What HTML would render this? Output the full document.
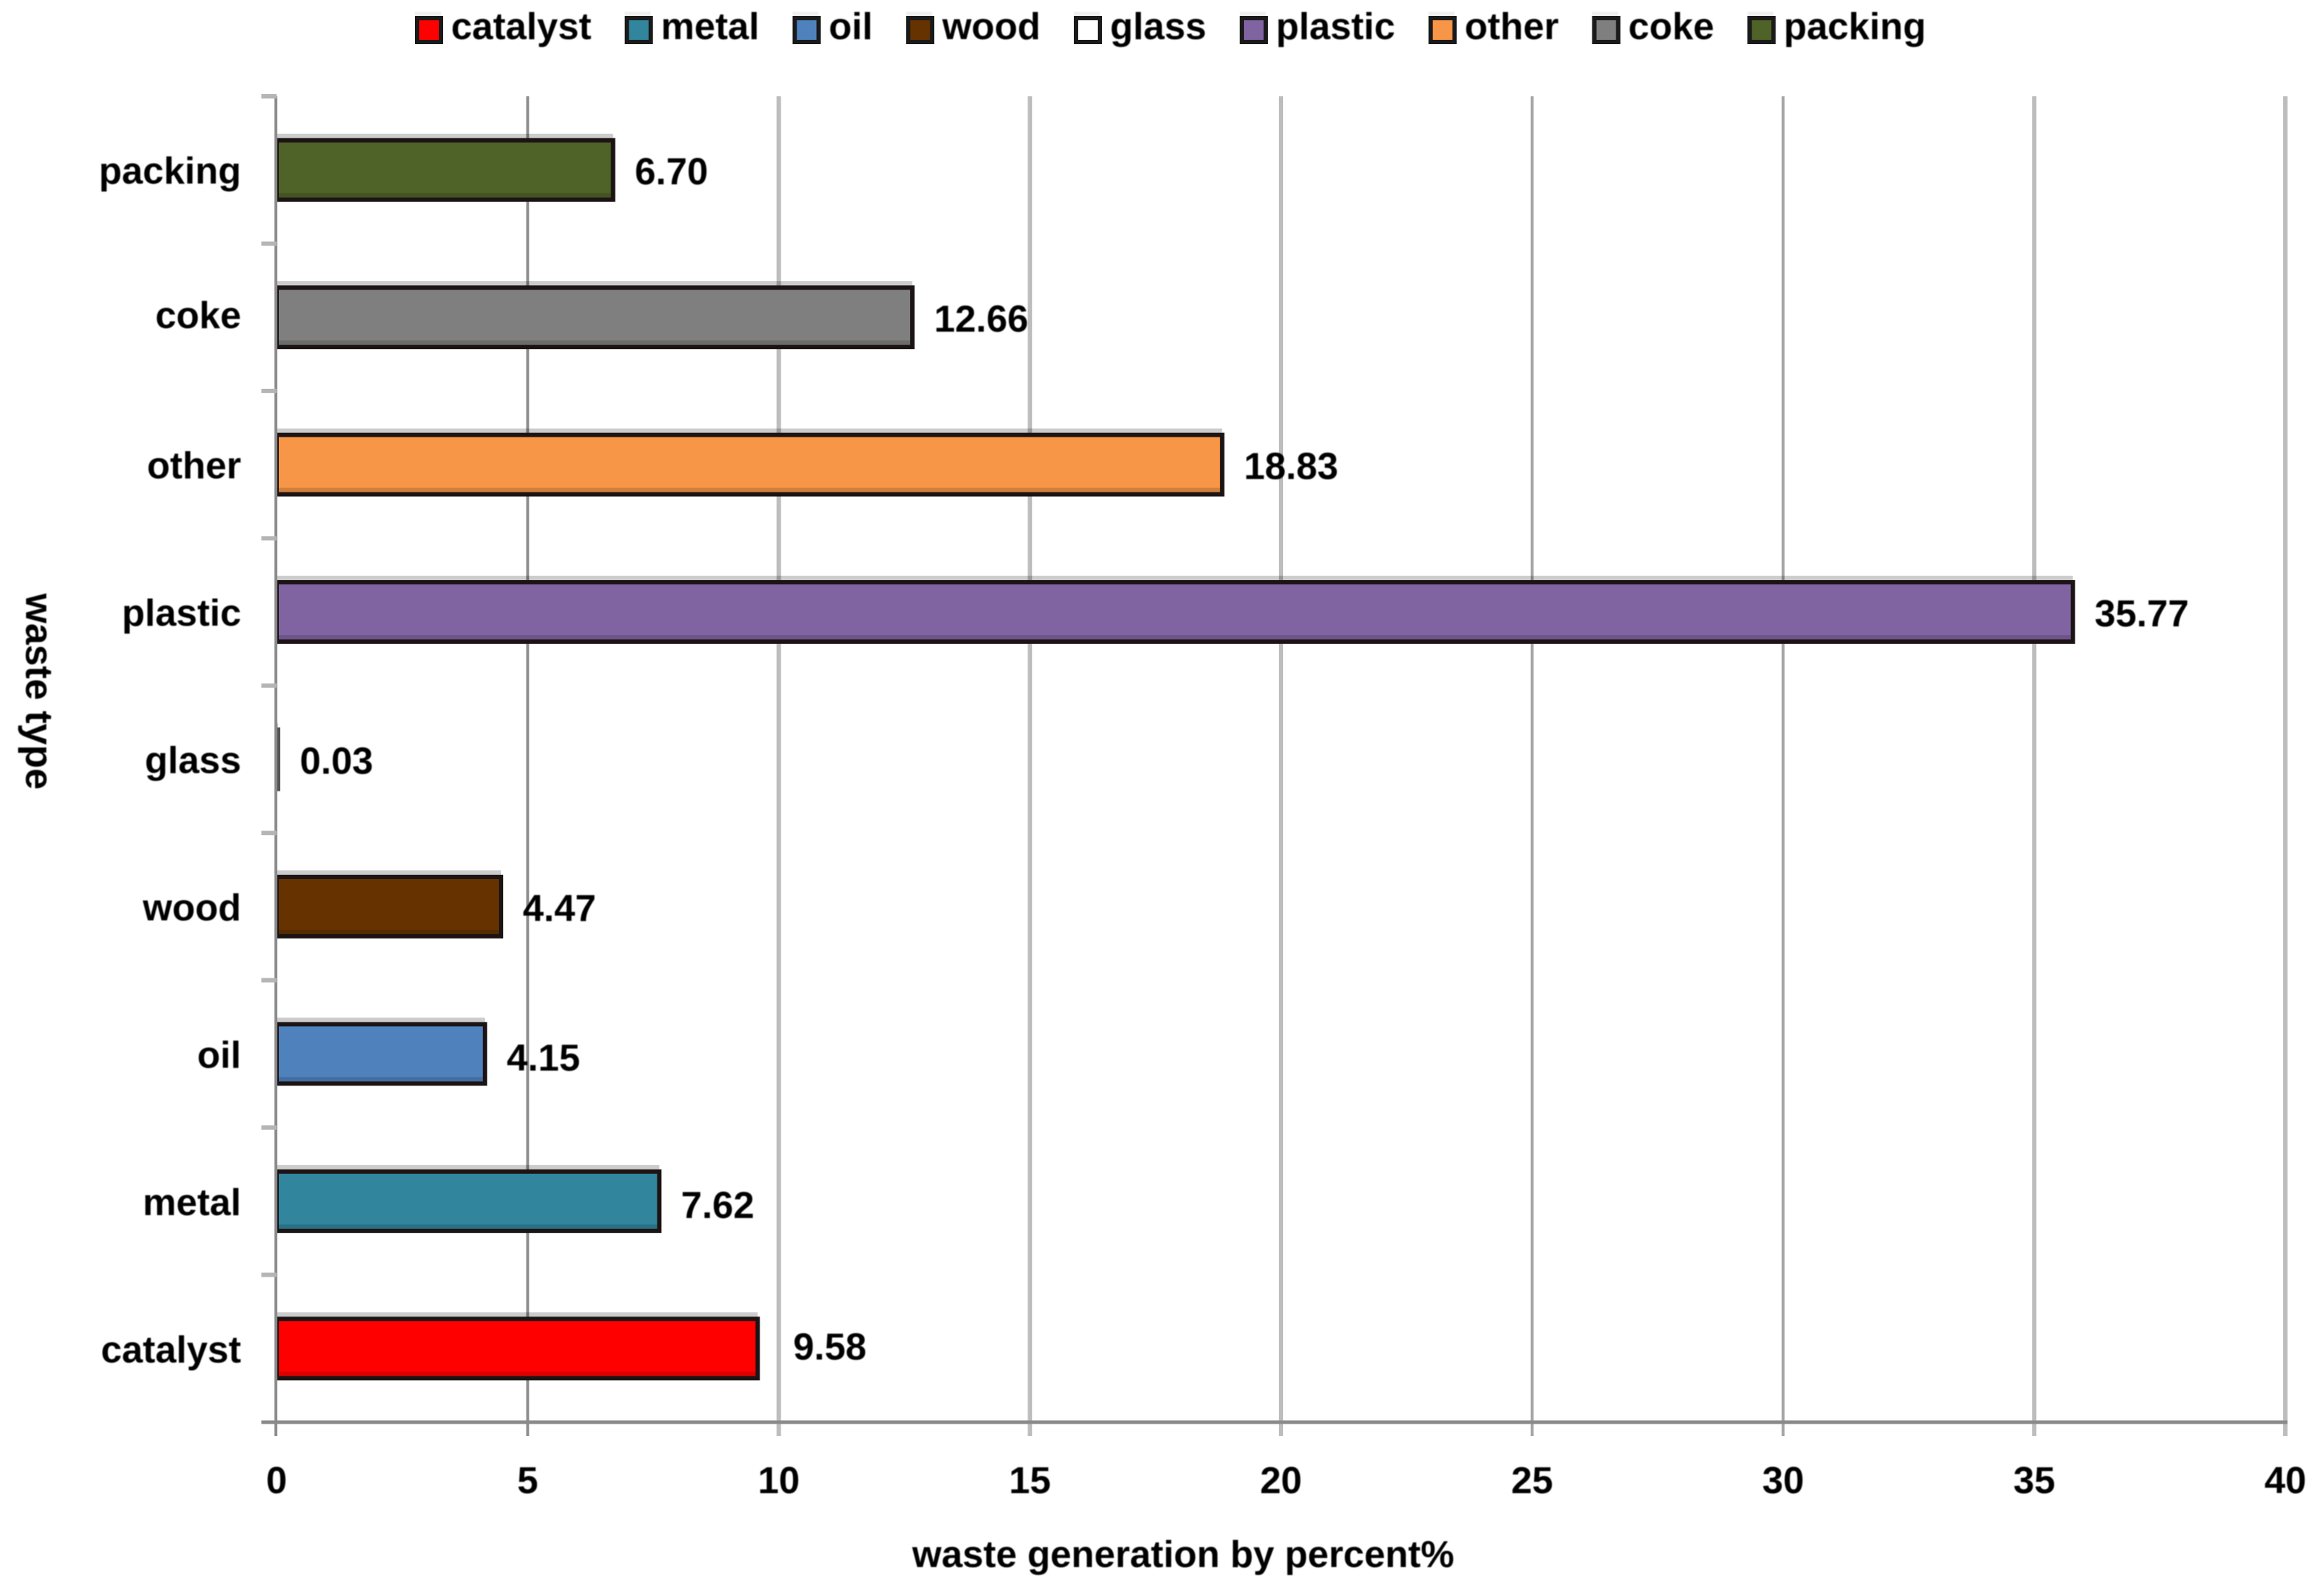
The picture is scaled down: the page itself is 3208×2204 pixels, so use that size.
<!DOCTYPE html>
<html lang="en">
<head>
<meta charset="utf-8">
<title>Waste generation by percent</title>
<style>
html,body{margin:0;padding:0;background:#fff;}
svg{display:block;}
text{font-family:"Liberation Sans",sans-serif;font-weight:bold;font-size:52px;fill:#000;}
</style>
</head>
<body>
<svg id="chart" xmlns="http://www.w3.org/2000/svg" width="3208" height="2204" viewBox="0 0 3208 2204">
  <defs>
    <filter id="soft" x="-5%" y="-5%" width="110%" height="110%"><feGaussianBlur stdDeviation="0.7"/></filter>
  </defs>
  <rect x="0" y="0" width="3208" height="2204" fill="#ffffff"/>
  <g id="grid"></g>
  <g id="bars"></g>
  <g id="axes"></g>
  <g id="texts" filter="url(#soft)">
    <text x="1634" y="2164" text-anchor="middle" style="font-size:52px">waste generation by percent%</text>
    <text x="0" y="0" transform="translate(36,955) rotate(90)" text-anchor="middle" style="font-size:53px">waste type</text>
  </g>
  <g id="legend"></g>
</svg>
<script>
const categories = ["catalyst", "metal", "oil", "wood", "glass", "plastic", "other", "coke", "packing"];
const values = [9.58, 7.62, 4.15, 4.47, 0.03, 35.77, 18.83, 12.66, 6.70];
const valueLabels = ["9.58", "7.62", "4.15", "4.47", "0.03", "35.77", "18.83", "12.66", "6.70"];
const barColors = ["#ff0000", "#31859c", "#4f81bd", "#663300", "#ffffff", "#8064a2", "#f79646", "#7f7f7f", "#4f6228"];
const xTicks = [0, 5, 10, 15, 20, 25, 30, 35, 40];

const NS = "http://www.w3.org/2000/svg";
const plot = { left: 382, right: 3156, top: 133, bottom: 1964 };
const xMax = 40;
const xScale = v => plot.left + (v / xMax) * (plot.right - plot.left);
const band = (plot.bottom - plot.top) / categories.length;
const yCenter = i => plot.bottom - band * (i + 0.5);

function make(tag, parent, attrs, text) {
  const el = document.createElementNS(NS, tag);
  for (const k in attrs) el.setAttribute(k, attrs[k]);
  if (text !== undefined) el.textContent = text;
  parent.appendChild(el);
  return el;
}

const gridG = document.getElementById("grid");
const barsG = document.getElementById("bars");
const axesG = document.getElementById("axes");
const textG = document.getElementById("texts");
const legendG = document.getElementById("legend");

// vertical gridlines and x tick labels
xTicks.forEach(t => {
  if (t === 0) return;
  const dark = t === 5;
  const mid = t === 25 || t === 30;
  const line = make("line", gridG, {
    x1: xScale(t), x2: xScale(t), y1: plot.top, y2: plot.bottom + 19,
    stroke: dark ? "#8c8c8c" : mid ? "#a6a6a6" : "#bdbdbd",
    "stroke-width": dark ? 4 : mid ? 4 : 6
  });
  
  
});

xTicks.forEach(t => {
  const label = make("text", textG, { x: xScale(t), y: 2062, "text-anchor": "middle" }, String(t));
  
  
});

// bars
categories.forEach((c, i) => {
  const cy = yCenter(i);
  const x0 = plot.left;
  const w = xScale(values[i]) - x0;

  const shadow = make("rect", barsG, { x: x0, y: cy - 50, width: w, height: 6, fill: "#000", "fill-opacity": 0.2 });
  
  

  const bar = make("rect", barsG, {
    x: x0, y: cy - 41, width: w, height: 82,
    fill: barColors[i], stroke: c === "glass" ? "#555" : "#1c1414", "stroke-width": 6
  });
  
  

  const strip = make("rect", barsG, { x: x0, y: cy + 32, width: Math.max(w - 3, 0), height: 6, fill: "#000", "fill-opacity": 0.15 });
  
  

  const gap = c === "catalyst" ? 49 : 30;
  const lift = c === "catalyst" ? 15 : (c === "metal" || c === "oil") ? 23 : 20;
  const valueLabel = make("text", textG, { x: xScale(values[i]) + gap, y: cy + lift }, valueLabels[i]);
  
  

  const catLabel = make("text", textG, { x: 333, y: cy + (c === "coke" ? 15 : 19), "text-anchor": "end" }, c);
  
  
});

// axes
const yAxis = make("line", axesG, { x1: plot.left - 1, x2: plot.left - 1, y1: plot.top, y2: plot.bottom + 19, stroke: "#8a8a8a", "stroke-width": 4 });



const xAxis = make("line", axesG, { x1: 361, x2: plot.right + 3, y1: plot.bottom, y2: plot.bottom, stroke: "#8a8a8a", "stroke-width": 5 });



for (let k = 0; k < categories.length; k++) {
  const ty = plot.top + band * k;
  const tick = make("line", axesG, { x1: 361, x2: plot.left, y1: ty, y2: ty, stroke: "#b5b5b5", "stroke-width": 6 });
  
  
}

// legend, laid out from measured text widths
let cursor = 573;
categories.forEach((c, i) => {
  const entry = make("g", legendG, {});
  
  

  const top = make("rect", entry, { x: cursor, y: 16, width: 36, height: 6, fill: "#000", "fill-opacity": 0.06 });
  
  

  const swatch = make("rect", entry, {
    x: cursor + 3, y: 25, width: 33, height: 33,
    fill: barColors[i], stroke: "#1a1a1a", "stroke-width": 6
  });
  
  

  const label = make("text", entry, { x: cursor + 50, y: 54, filter: "url(#soft)" }, c);
  
  

  cursor += 50 + label.getComputedTextLength() + 46;
});
</script>
</body>
</html>
